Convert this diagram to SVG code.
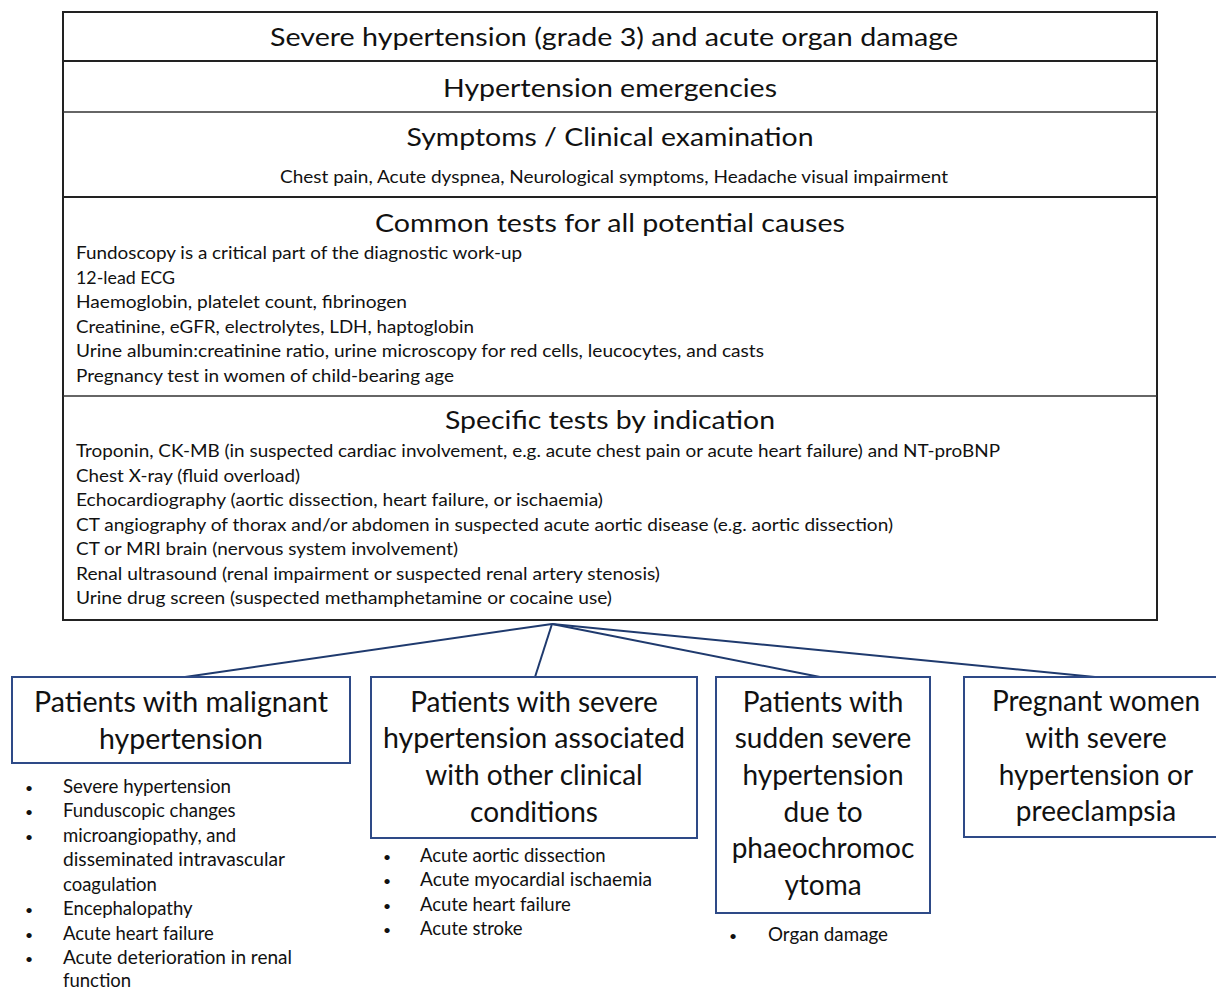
<svg xmlns="http://www.w3.org/2000/svg" width="1216" height="989" viewBox="0 0 1216 989">
<style>
text{font-family:Lato,"Liberation Sans",sans-serif;fill:#111;}
.h{font-size:25px;text-anchor:middle;}
.s{font-size:17px;}
.sc{font-size:17px;text-anchor:middle;}
.l{font-size:18.5px;}
.d{font-size:14px;}
.b{font-size:28px;text-anchor:middle;}
.frame{fill:#fff;stroke:#222;stroke-width:2;}
.sep{stroke:#222;stroke-width:2;}
.sep2{stroke:#333;stroke-width:1.5;}
.nb{fill:#fff;stroke:#2e4a87;stroke-width:2;}
.con{stroke:#1f3a6e;stroke-width:2;fill:none;}
</style>
<g id="top-panel">
<rect class="frame" x="63" y="12" width="1094" height="608"/>
<line class="sep" x1="63" y1="61" x2="1157" y2="61"/>
<line class="sep2" x1="63" y1="112" x2="1157" y2="112"/>
<line class="sep" x1="63" y1="197" x2="1157" y2="197"/>
<line class="sep2" x1="63" y1="396" x2="1157" y2="396"/>
</g>
<g id="title">
<text class="h" x="614" y="46" textLength="688" lengthAdjust="spacingAndGlyphs">Severe hypertension (grade 3) and acute organ damage</text>
</g>
<g id="emergencies">
<text class="h" x="610" y="97" textLength="334" lengthAdjust="spacingAndGlyphs">Hypertension emergencies</text>
</g>
<g id="symptoms">
<text class="h" x="610" y="146" textLength="407" lengthAdjust="spacingAndGlyphs">Symptoms / Clinical examination</text>
<text class="sc" x="614" y="183" textLength="668" lengthAdjust="spacingAndGlyphs">Chest pain, Acute dyspnea, Neurological symptoms, Headache visual impairment</text>
</g>
<g id="common-tests">
<text class="h" x="610" y="232" textLength="470" lengthAdjust="spacingAndGlyphs">Common tests for all potential causes</text>
<text class="s" x="76" y="259" textLength="446" lengthAdjust="spacingAndGlyphs">Fundoscopy is a critical part of the diagnostic work-up</text>
<text class="s" x="76" y="284" textLength="99" lengthAdjust="spacingAndGlyphs">12-lead ECG</text>
<text class="s" x="76" y="308" textLength="331" lengthAdjust="spacingAndGlyphs">Haemoglobin, platelet count, fibrinogen</text>
<text class="s" x="76" y="333" textLength="398" lengthAdjust="spacingAndGlyphs">Creatinine, eGFR, electrolytes, LDH, haptoglobin</text>
<text class="s" x="76" y="357" textLength="688" lengthAdjust="spacingAndGlyphs">Urine albumin:creatinine ratio, urine microscopy for red cells, leucocytes, and casts</text>
<text class="s" x="76" y="382" textLength="378" lengthAdjust="spacingAndGlyphs">Pregnancy test in women of child-bearing age</text>
</g>
<g id="specific-tests">
<text class="h" x="610" y="429" textLength="330" lengthAdjust="spacingAndGlyphs">Specific tests by indication</text>
<text class="s" x="76" y="457" textLength="924" lengthAdjust="spacingAndGlyphs">Troponin, CK-MB (in suspected cardiac involvement, e.g. acute chest pain or acute heart failure) and NT-proBNP</text>
<text class="s" x="76" y="482" textLength="224" lengthAdjust="spacingAndGlyphs">Chest X-ray (fluid overload)</text>
<text class="s" x="76" y="506" textLength="527" lengthAdjust="spacingAndGlyphs">Echocardiography (aortic dissection, heart failure, or ischaemia)</text>
<text class="s" x="76" y="531" textLength="817" lengthAdjust="spacingAndGlyphs">CT angiography of thorax and/or abdomen in suspected acute aortic disease (e.g. aortic dissection)</text>
<text class="s" x="76" y="555" textLength="382" lengthAdjust="spacingAndGlyphs">CT or MRI brain (nervous system involvement)</text>
<text class="s" x="76" y="580" textLength="584" lengthAdjust="spacingAndGlyphs">Renal ultrasound (renal impairment or suspected renal artery stenosis)</text>
<text class="s" x="76" y="604" textLength="536" lengthAdjust="spacingAndGlyphs">Urine drug screen (suspected methamphetamine or cocaine use)</text>
</g>
<g id="connectors">
<line class="con" x1="552" y1="624" x2="185" y2="677"/>
<line class="con" x1="552" y1="624" x2="535" y2="677"/>
<line class="con" x1="552" y1="624" x2="820" y2="677"/>
<line class="con" x1="552" y1="624" x2="1095" y2="677"/>
</g>
<g id="malignant">
<rect class="nb" x="12" y="677" width="338" height="86"/>
<text class="b" x="181" y="712" textLength="294" lengthAdjust="spacingAndGlyphs">Patients with malignant</text>
<text class="b" x="181" y="749" textLength="164" lengthAdjust="spacingAndGlyphs">hypertension</text>
<text class="d" x="25" y="793">•</text><text class="l" x="63" y="793" textLength="168" lengthAdjust="spacingAndGlyphs">Severe hypertension</text>
<text class="d" x="25" y="817">•</text><text class="l" x="63" y="817">Funduscopic changes</text>
<text class="d" x="25" y="842">•</text><text class="l" x="63" y="842">microangiopathy, and</text>
<text class="l" x="63" y="866" textLength="222" lengthAdjust="spacingAndGlyphs">disseminated intravascular</text>
<text class="l" x="63" y="891">coagulation</text>
<text class="d" x="25" y="915">•</text><text class="l" x="63" y="915">Encephalopathy</text>
<text class="d" x="25" y="940">•</text><text class="l" x="63" y="940">Acute heart failure</text>
<text class="d" x="25" y="964">•</text><text class="l" x="63" y="964" textLength="229" lengthAdjust="spacingAndGlyphs">Acute deterioration in renal</text>
<text class="l" x="63" y="987">function</text>
</g>
<g id="other-conditions">
<rect class="nb" x="371" y="677" width="326" height="161"/>
<text class="b" x="534" y="712">Patients with severe</text>
<text class="b" x="534" y="748" textLength="302" lengthAdjust="spacingAndGlyphs">hypertension associated</text>
<text class="b" x="534" y="785">with other clinical</text>
<text class="b" x="534" y="822">conditions</text>
<text class="d" x="383" y="862">•</text><text class="l" x="420" y="862">Acute aortic dissection</text>
<text class="d" x="383" y="886">•</text><text class="l" x="420" y="886" textLength="232" lengthAdjust="spacingAndGlyphs">Acute myocardial ischaemia</text>
<text class="d" x="383" y="911">•</text><text class="l" x="420" y="911">Acute heart failure</text>
<text class="d" x="383" y="935">•</text><text class="l" x="420" y="935">Acute stroke</text>
</g>
<g id="phaeochromocytoma">
<rect class="nb" x="716" y="677" width="214" height="236"/>
<text class="b" x="823" y="712">Patients with</text>
<text class="b" x="823" y="748">sudden severe</text>
<text class="b" x="823" y="785">hypertension</text>
<text class="b" x="823" y="822">due to</text>
<text class="b" x="823" y="858">phaeochromoc</text>
<text class="b" x="823" y="895">ytoma</text>
<text class="d" x="729" y="941">•</text><text class="l" x="768" y="941" textLength="120" lengthAdjust="spacingAndGlyphs">Organ damage</text>
</g>
<g id="pregnant">
<rect class="nb" x="964" y="677" width="270" height="160"/>
<text class="b" x="1096" y="711">Pregnant women</text>
<text class="b" x="1096" y="748">with severe</text>
<text class="b" x="1096" y="785">hypertension or</text>
<text class="b" x="1096" y="821">preeclampsia</text>
</g>
</svg>
